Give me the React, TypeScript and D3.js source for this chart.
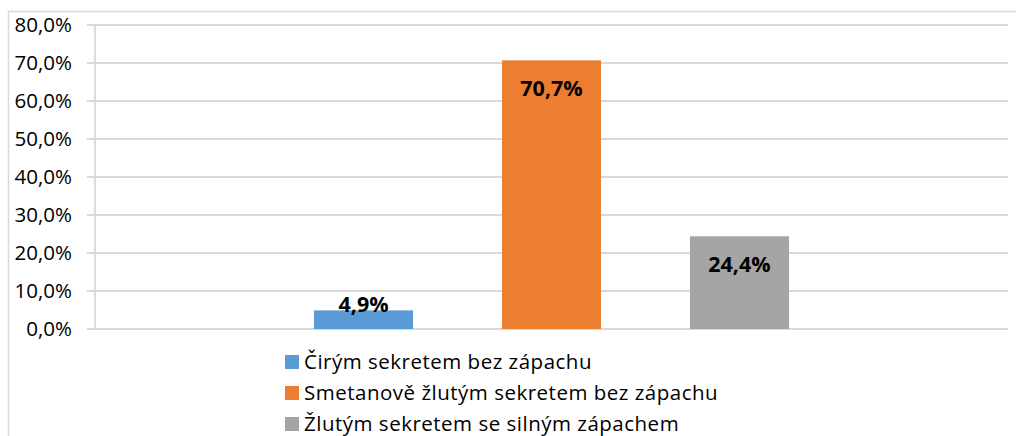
import React from "react";
import * as d3 from "d3";

const series = [
  "Čirým sekretem bez zápachu",
  "Smetanově žlutým sekretem bez zápachu",
  "Žlutým sekretem se silným zápachem",
];
const values = [4.9, 70.7, 24.4];
const colors = ["#5b9bd5", "#ed7d31", "#a5a5a5"];
const yTicks = [0, 10, 20, 30, 40, 50, 60, 70, 80];

const W = 1016;
const H = 436;
const FONT = "'Open Sans', sans-serif";

export default function App() {
  const x0 = 95;
  const x1 = 1008;
  const y = d3.scaleLinear().domain([0, 80]).range([329, 25]);
  const x = d3
    .scaleBand<string>()
    .domain(series)
    .range([x0, x1])
    .paddingInner(0.473)
    .paddingOuter(1.165);
  const fmt = (v: number) => v.toFixed(1).replace(".", ",") + "%";

  return (
    <svg
      width={W}
      height={H}
      style={{ position: "absolute", left: 0, top: 0, background: "#fff" }}
      fontFamily={FONT}
    >
      <rect x={0} y={0} width={W} height={H} fill="#fff" />
      <rect x={8.5} y={11.5} width={1200} height={600} fill="none" stroke="#d9d9d9" strokeWidth={1.5} />
      {yTicks.map((t) => (
        <line key={t} x1={87} x2={x1} y1={y(t)} y2={y(t)} stroke="#d9d9d9" strokeWidth={1.8} />
      ))}
      <line x1={x0} x2={x0} y1={y(80)} y2={y(0)} stroke="#d9d9d9" strokeWidth={1.8} />
      {yTicks.map((t) => (
        <text key={"l" + t} x={72} y={y(t)} dy="0.35em" textAnchor="end" fontSize={20.5} fill="#000">
          {fmt(t)}
        </text>
      ))}
      {series.map((s, i) => (
        <rect key={s} x={x(s)} y={y(values[i])} width={x.bandwidth()} height={y(0) - y(values[i])} fill={colors[i]} />
      ))}
      {series.map((s, i) => {
        const top = y(values[i]);
        const h = y(0) - top;
        const yy = h < 40 ? top + 2 : top + 36;
        return (
          <text
            key={"d" + s}
            x={(x(s) as number) + x.bandwidth() / 2}
            y={yy}
            textAnchor="middle"
            fontWeight="bold"
            fontSize={21.5}
            fill="#000"
          >
            {fmt(values[i])}
          </text>
        );
      })}
      {series.map((s, i) => (
        <g key={"g" + s} transform={`translate(285, ${362 + i * 31})`}>
          <rect x={0} y={-7} width={14} height={14} fill={colors[i]} />
          <text x={19} y={0} dy="0.35em" fontSize={20.5} letterSpacing={0.5} fill="#000">
            {s}
          </text>
        </g>
      ))}
    </svg>
  );
}
